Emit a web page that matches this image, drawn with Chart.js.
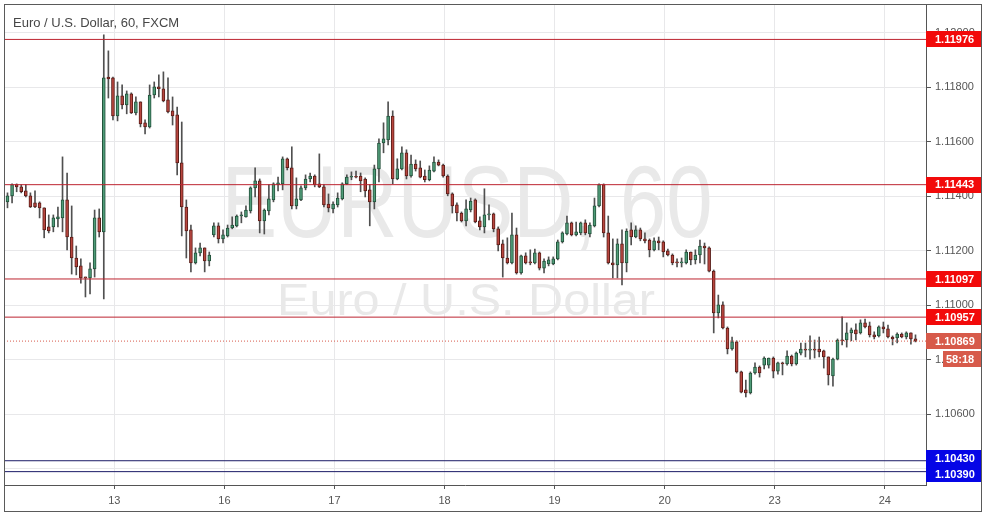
<!DOCTYPE html>
<html>
<head>
<meta charset="utf-8">
<script src="https://cdn.jsdelivr.net/npm/chart.js@4"></script>
<style>
  html, body { margin: 0; padding: 0; background: #fff; }
  canvas { display: block; }
</style>
</head>
<body>
<canvas id="chart" width="987" height="517"></canvas>
<script>
// hourly EUR/USD candles, index 0 = first bar on the 12th
const opens = [
  1.11380, 1.11402, 1.11443, 1.11435, 1.11420, 1.11402, 1.11376, 1.11376, 1.11358, 1.11288,
  1.11288, 1.11317, 1.11321, 1.11387, 1.11251, 1.11174, 1.11145, 1.11104, 1.11101, 1.11134,
  1.11321, 1.11270, 1.11838, 1.11835, 1.11695, 1.11769, 1.11736, 1.11776, 1.11706, 1.11747,
  1.11670, 1.11655, 1.11772, 1.11802, 1.11795, 1.11754, 1.11714, 1.11699, 1.11523, 1.11361,
  1.11277, 1.11156, 1.11193, 1.11211, 1.11163, 1.11259, 1.11292, 1.11244, 1.11255, 1.11284,
  1.11292, 1.11328, 1.11325, 1.11347, 1.11431, 1.11457, 1.11310, 1.11347, 1.11387, 1.11443,
  1.11446, 1.11538, 1.11505, 1.11365, 1.11387, 1.11431, 1.11464, 1.11475, 1.11446, 1.11435,
  1.11372, 1.11354, 1.11369, 1.11391, 1.11446, 1.11471, 1.11475, 1.11475, 1.11464, 1.11424,
  1.11380, 1.11501, 1.11596, 1.11607, 1.11695, 1.11464, 1.11501, 1.11560, 1.11475, 1.11519,
  1.11505, 1.11475, 1.11461, 1.11493, 1.11526, 1.11515, 1.11475, 1.11409, 1.11369, 1.11339,
  1.11310, 1.11350, 1.11387, 1.11310, 1.11288, 1.11332, 1.11336, 1.11281, 1.11226, 1.11174,
  1.11156, 1.11259, 1.11119, 1.11182, 1.11160, 1.11156, 1.11193, 1.11137, 1.11152, 1.11152,
  1.11171, 1.11233, 1.11262, 1.11303, 1.11259, 1.11266, 1.11303, 1.11262, 1.11292, 1.11365,
  1.11443, 1.11266, 1.11156, 1.11149, 1.11226, 1.11156, 1.11277, 1.11251, 1.11277, 1.11244,
  1.11240, 1.11204, 1.11237, 1.11233, 1.11200, 1.11185, 1.11160, 1.11156, 1.11156, 1.11196,
  1.11167, 1.11185, 1.11218, 1.11211, 1.11126, 1.10972, 1.11002, 1.10917, 1.10840, 1.10866,
  1.10756, 1.10690, 1.10679, 1.10752, 1.10774, 1.10781, 1.10781, 1.10807, 1.10759, 1.10789,
  1.10785, 1.10814, 1.10785, 1.10825, 1.10840, 1.10836, 1.10840, 1.10840, 1.10833, 1.10811,
  1.10741, 1.10803, 1.10873, 1.10873, 1.10899, 1.10910, 1.10899, 1.10936, 1.10925, 1.10892,
  1.10888, 1.10921, 1.10914, 1.10884, 1.10881, 1.10895, 1.10884, 1.10899, 1.10877
];
const highs = [
  1.11413, 1.11446, 1.11446, 1.11443, 1.11443, 1.11413, 1.11420, 1.11380, 1.11358, 1.11332,
  1.11332, 1.11361, 1.11545, 1.11486, 1.11365, 1.11218, 1.11171, 1.11104, 1.11156, 1.11350,
  1.11354, 1.11993, 1.11934, 1.11838, 1.11820, 1.11809, 1.11787, 1.11780, 1.11765, 1.11747,
  1.11681, 1.11809, 1.11820, 1.11846, 1.11857, 1.11835, 1.11765, 1.11728, 1.11673, 1.11387,
  1.11295, 1.11211, 1.11229, 1.11211, 1.11196, 1.11303, 1.11303, 1.11277, 1.11295, 1.11325,
  1.11332, 1.11343, 1.11365, 1.11435, 1.11505, 1.11464, 1.11354, 1.11443, 1.11450, 1.11471,
  1.11545, 1.11541, 1.11582, 1.11468, 1.11439, 1.11479, 1.11486, 1.11479, 1.11556, 1.11443,
  1.11409, 1.11380, 1.11413, 1.11450, 1.11479, 1.11490, 1.11493, 1.11486, 1.11468, 1.11443,
  1.11515, 1.11611, 1.11670, 1.11747, 1.11714, 1.11538, 1.11582, 1.11571, 1.11552, 1.11534,
  1.11530, 1.11497, 1.11512, 1.11545, 1.11534, 1.11519, 1.11479, 1.11413, 1.11376, 1.11343,
  1.11387, 1.11394, 1.11391, 1.11325, 1.11428, 1.11369, 1.11339, 1.11288, 1.11240, 1.11248,
  1.11339, 1.11284, 1.11185, 1.11193, 1.11204, 1.11207, 1.11196, 1.11171, 1.11178, 1.11178,
  1.11240, 1.11270, 1.11328, 1.11306, 1.11306, 1.11306, 1.11314, 1.11303, 1.11394, 1.11446,
  1.11446, 1.11328, 1.11244, 1.11244, 1.11277, 1.11281, 1.11303, 1.11292, 1.11284, 1.11266,
  1.11244, 1.11248, 1.11251, 1.11237, 1.11207, 1.11189, 1.11171, 1.11174, 1.11204, 1.11196,
  1.11204, 1.11240, 1.11229, 1.11215, 1.11130, 1.11038, 1.11013, 1.10921, 1.10884, 1.10870,
  1.10759, 1.10726, 1.10756, 1.10789, 1.10778, 1.10811, 1.10807, 1.10811, 1.10792, 1.10792,
  1.10833, 1.10818, 1.10829, 1.10862, 1.10862, 1.10888, 1.10873, 1.10884, 1.10836, 1.10811,
  1.10807, 1.10877, 1.10958, 1.10936, 1.10917, 1.10932, 1.10947, 1.10950, 1.10939, 1.10903,
  1.10925, 1.10939, 1.10928, 1.10888, 1.10899, 1.10899, 1.10903, 1.10899, 1.10892
];
const lows = [
  1.11358, 1.11376, 1.11417, 1.11413, 1.11398, 1.11359, 1.11359, 1.11321, 1.11248, 1.11266,
  1.11270, 1.11288, 1.11270, 1.11204, 1.11115, 1.11112, 1.11082, 1.11031, 1.11042, 1.11104,
  1.11251, 1.11024, 1.11761, 1.11681, 1.11677, 1.11721, 1.11703, 1.11704, 1.11699, 1.11655,
  1.11629, 1.11651, 1.11761, 1.11765, 1.11747, 1.11706, 1.11662, 1.11479, 1.11255, 1.11174,
  1.11123, 1.11152, 1.11182, 1.11123, 1.11145, 1.11251, 1.11229, 1.11229, 1.11251, 1.11281,
  1.11288, 1.11303, 1.11324, 1.11339, 1.11398, 1.11266, 1.11262, 1.11332, 1.11380, 1.11420,
  1.11424, 1.11497, 1.11354, 1.11354, 1.11384, 1.11424, 1.11453, 1.11435, 1.11432, 1.11361,
  1.11343, 1.11339, 1.11361, 1.11387, 1.11443, 1.11461, 1.11468, 1.11417, 1.11398, 1.11292,
  1.11354, 1.11453, 1.11560, 1.11589, 1.11446, 1.11461, 1.11497, 1.11464, 1.11471, 1.11493,
  1.11468, 1.11453, 1.11457, 1.11490, 1.11512, 1.11471, 1.11402, 1.11339, 1.11310, 1.11306,
  1.11292, 1.11343, 1.11303, 1.11277, 1.11266, 1.11314, 1.11270, 1.11200, 1.11104, 1.11152,
  1.11152, 1.11115, 1.11115, 1.11152, 1.11149, 1.11152, 1.11130, 1.11119, 1.11145, 1.11149,
  1.11167, 1.11229, 1.11259, 1.11255, 1.11255, 1.11259, 1.11259, 1.11251, 1.11288, 1.11361,
  1.11251, 1.11152, 1.11101, 1.11101, 1.11075, 1.11123, 1.11222, 1.11248, 1.11237, 1.11229,
  1.11178, 1.11200, 1.11204, 1.11178, 1.11182, 1.11149, 1.11141, 1.11141, 1.11152, 1.11149,
  1.11152, 1.11156, 1.11152, 1.11123, 1.10899, 1.10954, 1.10914, 1.10822, 1.10836, 1.10752,
  1.10679, 1.10664, 1.10675, 1.10748, 1.10737, 1.10767, 1.10770, 1.10734, 1.10748, 1.10745,
  1.10781, 1.10778, 1.10781, 1.10818, 1.10811, 1.10803, 1.10807, 1.10811, 1.10770, 1.10708,
  1.10704, 1.10800, 1.10855, 1.10847, 1.10870, 1.10873, 1.10895, 1.10917, 1.10884, 1.10877,
  1.10884, 1.10899, 1.10881, 1.10855, 1.10862, 1.10881, 1.10877, 1.10858, 1.10866
];
const closes = [
  1.11402, 1.11443, 1.11435, 1.11417, 1.11402, 1.11361, 1.11361, 1.11358, 1.11277, 1.11273,
  1.11321, 1.11325, 1.11387, 1.11251, 1.11174, 1.11141, 1.11101, 1.11101, 1.11134, 1.11321,
  1.11270, 1.11835, 1.11831, 1.11695, 1.11769, 1.11736, 1.11776, 1.11706, 1.11747, 1.11666,
  1.11655, 1.11772, 1.11802, 1.11795, 1.11750, 1.11710, 1.11695, 1.11523, 1.11361, 1.11273,
  1.11156, 1.11193, 1.11211, 1.11163, 1.11185, 1.11292, 1.11244, 1.11259, 1.11284, 1.11295,
  1.11328, 1.11332, 1.11350, 1.11431, 1.11457, 1.11310, 1.11350, 1.11391, 1.11446, 1.11450,
  1.11538, 1.11505, 1.11365, 1.11391, 1.11431, 1.11464, 1.11475, 1.11443, 1.11435, 1.11369,
  1.11358, 1.11372, 1.11394, 1.11446, 1.11471, 1.11475, 1.11471, 1.11457, 1.11420, 1.11380,
  1.11501, 1.11596, 1.11611, 1.11695, 1.11464, 1.11501, 1.11560, 1.11475, 1.11519, 1.11501,
  1.11471, 1.11461, 1.11497, 1.11526, 1.11515, 1.11475, 1.11409, 1.11365, 1.11339, 1.11310,
  1.11354, 1.11383, 1.11306, 1.11288, 1.11332, 1.11336, 1.11281, 1.11222, 1.11174, 1.11156,
  1.11259, 1.11119, 1.11182, 1.11156, 1.11156, 1.11193, 1.11137, 1.11163, 1.11167, 1.11171,
  1.11233, 1.11266, 1.11303, 1.11259, 1.11270, 1.11303, 1.11266, 1.11295, 1.11365, 1.11443,
  1.11266, 1.11156, 1.11149, 1.11226, 1.11156, 1.11273, 1.11251, 1.11277, 1.11244, 1.11237,
  1.11204, 1.11237, 1.11229, 1.11196, 1.11185, 1.11156, 1.11156, 1.11160, 1.11196, 1.11167,
  1.11185, 1.11218, 1.11211, 1.11126, 1.10972, 1.11002, 1.10917, 1.10840, 1.10866, 1.10756,
  1.10682, 1.10679, 1.10752, 1.10774, 1.10752, 1.10807, 1.10807, 1.10759, 1.10789, 1.10785,
  1.10814, 1.10785, 1.10825, 1.10840, 1.10836, 1.10840, 1.10836, 1.10829, 1.10811, 1.10745,
  1.10803, 1.10873, 1.10870, 1.10899, 1.10910, 1.10895, 1.10936, 1.10921, 1.10892, 1.10884,
  1.10921, 1.10914, 1.10884, 1.10877, 1.10895, 1.10884, 1.10899, 1.10877, 1.10869
];

// day separators (bar index) and their labels
const dayTicks = [23.3, 47.3, 71.3, 95.3, 119.3, 143.3, 167.3, 191.3];
const dayLabels = ["13", "16", "17", "18", "19", "20", "23", "24"];

const priceTicks = [1.104, 1.106, 1.108, 1.110, 1.112, 1.114, 1.116, 1.118, 1.120];
const resistanceLevels = [1.11976, 1.11443, 1.11097, 1.10957];
const supportLevels = [1.10430, 1.10390];
const lastPrice = 1.10869;
const countdown = "58:18";

const FONT = '"Liberation Sans", Arial, sans-serif';
const UP_FILL = "#4f9c78", UP_LINE = "#22503a";
const DOWN_FILL = "#b8463f", DOWN_LINE = "#5a1d18";
const WICK = "#505050";
const RED_LINE = "#bd2430", RED_BOX = "#f20a0a";
const BLUE_LINE = "#1a1a66", BLUE_BOX = "#0505e6";
const LAST_COLOR = "#d75a4a";

const X_MIN = -0.76, X_MAX = 200.29;

const isUp = opens.map((o, i) => closes[i] >= o);

function levelLine(value, color, dash) {
    return {
        type: "line",
        data: [{ x: X_MIN, y: value }, { x: X_MAX, y: value }],
        borderColor: color,
        borderWidth: 1,
        borderDash: dash || [],
        pointRadius: 0,
        order: 0
    };
}

const datasets = [
    ...resistanceLevels.map(v => levelLine(v, RED_LINE)),
    ...supportLevels.map(v => levelLine(v, BLUE_LINE)),
    levelLine(lastPrice, LAST_COLOR, [1, 2]),
    {
        type: "bar",
        data: opens.map((o, i) => ({ x: i, y: [o, closes[i]] })),
        backgroundColor: isUp.map(u => u ? UP_FILL : DOWN_FILL),
        borderColor: isUp.map(u => u ? UP_LINE : DOWN_LINE),
        borderWidth: 1,
        borderSkipped: false,
        barThickness: 3,
        minBarLength: 1,
        grouped: false,
        order: 1
    },
    {
        type: "bar",
        data: lows.map((l, i) => ({ x: i, y: [l, highs[i]] })),
        backgroundColor: WICK,
        barThickness: 1,
        grouped: false,
        order: 2
    }
];

function fitText(ctx, text, cx, baseline, size, width) {
    ctx.font = size + "px " + FONT;
    const w = ctx.measureText(text).width;
    ctx.save();
    ctx.translate(cx, baseline);
    ctx.scale(width / w, 1);
    ctx.textAlign = "center";
    ctx.textBaseline = "alphabetic";
    ctx.fillText(text, 0, 0);
    ctx.restore();
}

const overlay = {
    id: "overlay",
    beforeDatasetsDraw(chart) {
        const ctx = chart.ctx, a = chart.chartArea;
        ctx.save();
        ctx.beginPath();
        ctx.rect(a.left, a.top, a.right - a.left, a.bottom - a.top);
        ctx.clip();
        ctx.fillStyle = "#e9e9e9";
        fitText(ctx, "EURUSD, 60", 467, 237, 102, 491);
        fitText(ctx, "Euro / U.S. Dollar", 466, 315, 44, 378);
        ctx.restore();
    },
    afterDraw(chart) {
        const ctx = chart.ctx, a = chart.chartArea;
        const y = chart.scales.y, x = chart.scales.x;

        ctx.save();
        // title
        ctx.fillStyle = "#474747";
        ctx.font = "13px " + FONT;
        ctx.textAlign = "left";
        ctx.textBaseline = "middle";
        ctx.fillText("Euro / U.S. Dollar, 60, FXCM", 13, 23);

        // price labels on the axis
        const boxes = [
            ...resistanceLevels.map(v => ({ v, text: v.toFixed(5), color: RED_BOX })),
            ...supportLevels.map(v => ({ v, text: v.toFixed(5), color: BLUE_BOX })),
            { v: lastPrice, text: lastPrice.toFixed(5), color: LAST_COLOR }
        ];
        const h = 16;
        boxes.forEach(b => { b.c = y.getPixelForValue(b.v); });
        boxes.sort((p, q) => p.c - q.c);
        for (let i = 1; i < boxes.length; i++) {
            const gap = boxes[i].c - boxes[i - 1].c;
            if (gap < h) {
                const push = (h - gap) / 2;
                boxes[i - 1].c -= push;
                boxes[i].c += push;
            }
        }
        ctx.font = "bold 11px " + FONT;
        boxes.forEach(b => {
            ctx.fillStyle = b.color;
            ctx.fillRect(y.left, Math.round(b.c - h / 2), y.right - y.left, h);
            ctx.fillStyle = "#fff";
            ctx.fillText(b.text, y.left + 9, b.c + 0.5);
        });
        const lastBox = boxes.find(b => b.v === lastPrice);
        ctx.fillStyle = LAST_COLOR;
        ctx.fillRect(y.left + 17, Math.round(lastBox.c + h / 2 + 2), y.right - y.left - 17, h);
        ctx.fillStyle = "#fff";
        ctx.fillText(countdown, y.left + 20, lastBox.c + h + 2.5);

        // outer frame
        ctx.strokeStyle = "#5a5a5a";
        ctx.lineWidth = 1;
        ctx.strokeRect(a.left + 0.5, a.top + 0.5, y.right - a.left - 1, x.bottom - a.top - 1);
        ctx.restore();
    }
};

new Chart(document.getElementById("chart"), {
    type: "bar",
    data: { datasets },
    options: {
        responsive: false,
        animation: false,
        layout: { padding: { left: 4, top: 4, right: 5, bottom: 5 } },
        plugins: { legend: { display: false }, tooltip: { enabled: false } },
        scales: {
            x: {
                type: "linear",
                min: X_MIN,
                max: X_MAX,
                offset: false,
                grid: { offset: false, color: "#e8e8ea", tickLength: 4, tickColor: "#555" },
                border: { color: "#555" },
                afterBuildTicks: s => { s.ticks = dayTicks.map(v => ({ value: v })); },
                afterFit: s => { s.height = 27; },
                ticks: {
                    callback: (v, i) => dayLabels[i],
                    color: "#555",
                    font: { family: FONT, size: 11 },
                    padding: 5,
                    maxRotation: 0,
                    autoSkip: false
                }
            },
            y: {
                type: "linear",
                position: "right",
                min: 1.10341,
                max: 1.12106,
                grid: { color: "#e8e8ea", tickLength: 5, tickColor: "#555" },
                border: { color: "#555" },
                afterBuildTicks: s => { s.ticks = priceTicks.map(v => ({ value: v })); },
                afterFit: s => { s.width = 56; s.paddingTop = 0; s.paddingBottom = 0; },
                ticks: {
                    callback: v => v.toFixed(5),
                    color: "#555",
                    font: { family: FONT, size: 11, lineHeight: 0 },
                    padding: 4
                }
            }
        }
    },
    plugins: [overlay]
});
</script>
</body>
</html>
